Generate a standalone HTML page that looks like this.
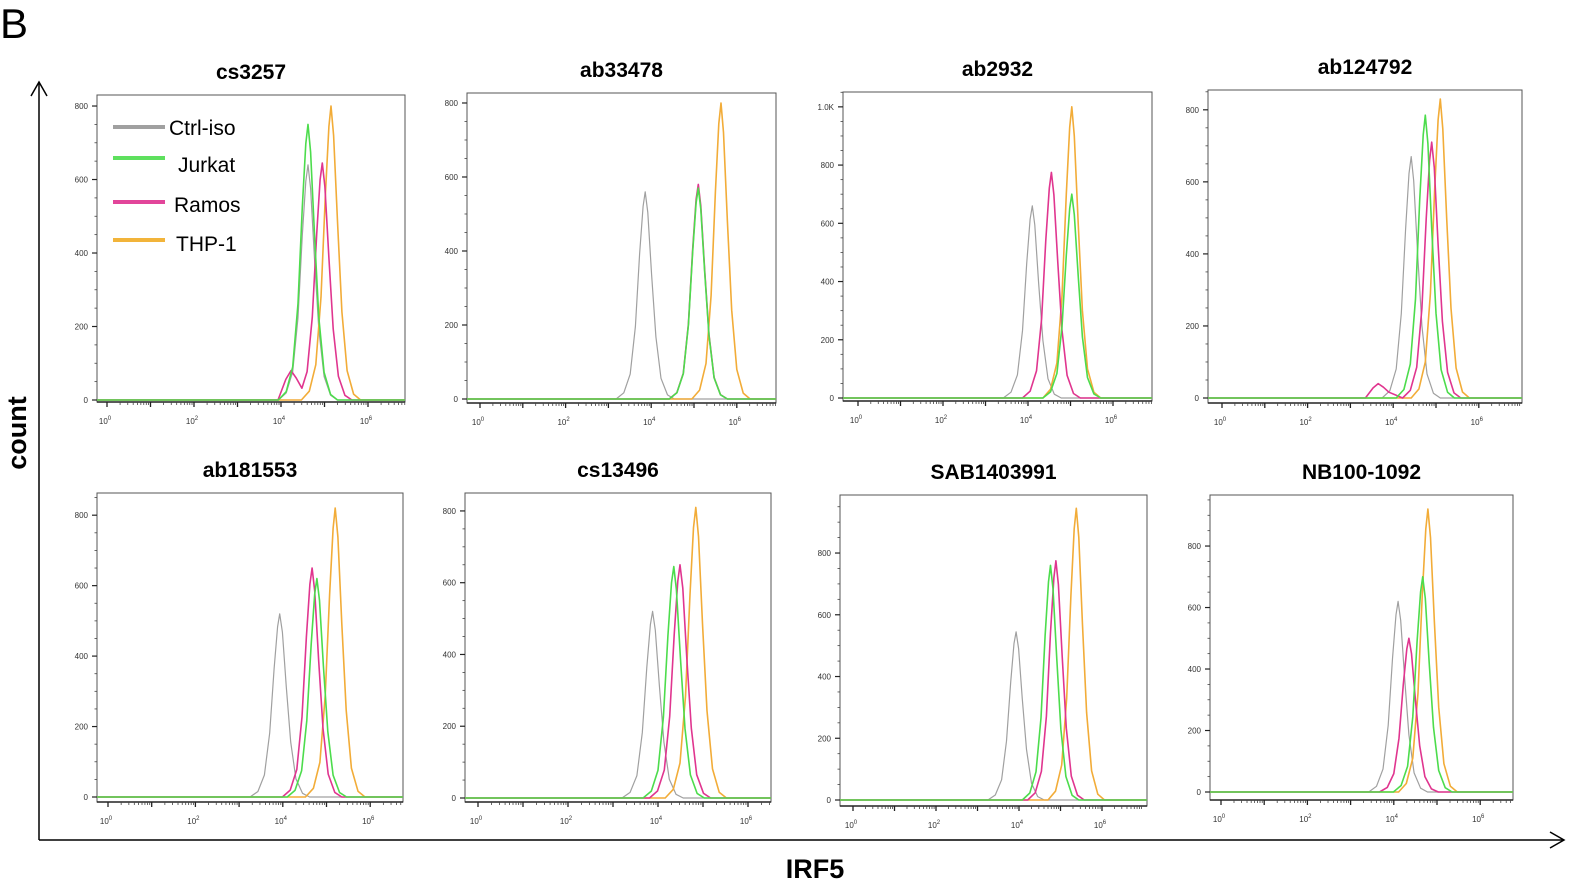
<!DOCTYPE html>
<html><head><meta charset="utf-8">
<style>
html,body{margin:0;padding:0;background:#fff;}
svg{display:block;font-family:"Liberation Sans",sans-serif;}
</style></head>
<body>
<svg id="fig" width="1569" height="882" viewBox="0 0 1569 882" xmlns="http://www.w3.org/2000/svg">
  <text x="0" y="38" font-size="42">B</text>
  <line x1="39" y1="840" x2="39" y2="82" stroke="#000" stroke-width="1.5"/>
  <polyline points="31,96 39,82 47,96" fill="none" stroke="#000" stroke-width="1.5"/>
  <line x1="39" y1="840" x2="1564" y2="840" stroke="#000" stroke-width="1.5"/>
  <polyline points="1550,832 1564,840 1550,848" fill="none" stroke="#000" stroke-width="1.5"/>
  <text x="0" y="0" transform="translate(26,433) rotate(-90)" text-anchor="middle" font-size="27" font-weight="bold">count</text>
  <text x="815" y="878" text-anchor="middle" font-size="27" font-weight="bold">IRF5</text>
  <g id="panels"></g>
  <g>
    <line x1="113" y1="127" x2="165" y2="127" stroke="#a0a0a0" stroke-width="4"/>
    <text x="169" y="135" font-size="21">Ctrl-iso</text>
    <line x1="113" y1="158" x2="165" y2="158" stroke="#5ee05e" stroke-width="4"/>
    <text x="178" y="172" font-size="21">Jurkat</text>
    <line x1="113" y1="202" x2="165" y2="202" stroke="#e2459a" stroke-width="4"/>
    <text x="174" y="212" font-size="21">Ramos</text>
    <line x1="113" y1="240" x2="165" y2="240" stroke="#f2b43a" stroke-width="4"/>
    <text x="176" y="251" font-size="21">THP-1</text>
  </g>
</svg>
<script>
// ---- data ----
const panelTitles = ["cs3257","ab33478","ab2932","ab124792","ab181553","cs13496","SAB1403991","NB100-1092"];
const seriesNames = ["ctrl-iso","jurkat","ramos","thp1"];
// peak position (log10 fluorescence) per panel, per series [ctrl, jurkat, ramos, thp1]
const peakLog = [
  [4.62,4.62,4.95,5.15],
  [3.86,5.1,5.1,5.63],
  [4.1,5.03,4.55,5.03],
  [4.42,4.75,4.9,5.1],
  [3.93,4.78,4.67,5.2],
  [3.88,4.35,4.49,4.84],
  [3.93,4.76,4.89,5.38],
  [4.1,4.67,4.35,4.79]
];
// peak height (count)
const peakCount = [
  [640,750,645,800],
  [560,570,580,800],
  [660,700,775,1000],
  [670,785,710,830],
  [520,620,650,820],
  [520,645,650,810],
  [545,760,775,945],
  [620,700,500,920]
];
// secondary Ramos debris peaks
const ramosBumpLog = [4.23,3.65];
const ramosBumpCount = [80,40];
const ramosBumpPanel = [0,3];
// normalized histogram profile (decade offsets vs relative height)
const profileOffset = [-0.68,-0.5,-0.35,-0.23,-0.13,-0.05,0,0.06,0.15,0.25,0.37,0.52,0.68];
const profileRel = [0,0.03,0.12,0.35,0.7,0.93,1,0.9,0.6,0.3,0.1,0.02,0];
const yTickValues = [0,200,400,600,800];
const yTickLabels = ["0","200","400","600","800"];
const xTickDecades = [0,2,4,6];

// ---- layout (not data) ----
const boxes = [
  {l:97,r:405,t:95,b:402,x0:107,dec:43.5,y0:400,yTop:830},
  {l:467,r:776,t:93,b:403,x0:480,dec:42.8,y0:399,yTop:827},
  {l:843,r:1152,t:92,b:401,x0:858,dec:42.5,y0:398,yTop:1051},
  {l:1208,r:1522,t:90,b:403,x0:1222,dec:42.8,y0:398,yTop:855},
  {l:97,r:403,t:493,b:802,x0:108,dec:43.7,y0:797,yTop:863},
  {l:465,r:771,t:493,b:802,x0:478,dec:45,y0:798,yTop:850},
  {l:840,r:1147,t:495,b:806,x0:853,dec:41.5,y0:800,yTop:988},
  {l:1210,r:1513,t:495,b:800,x0:1221,dec:43.2,y0:792,yTop:966}
];
const colors = ["#a0a0a0","#4cdc4c","#e0358f","#f2ac38"];
const NS = "http://www.w3.org/2000/svg";
const root = document.getElementById("panels");
function mk(tag, attrs, parent){const e=document.createElementNS(NS,tag);for(const k in attrs)e.setAttribute(k,attrs[k]);parent.appendChild(e);return e;}

boxes.forEach((B,pi)=>{
  const g = mk("g",{},root);
  
  
  const xs = lg => B.x0 + lg*B.dec;
  const ys = v => B.y0 - v*(B.y0-B.t)/B.yTop;
  const cx = (B.l+B.r)/2;
  const title = mk("text",{x:cx,y:B.t-16,"text-anchor":"middle","font-size":"21","font-weight":"bold"},g);
  title.textContent = panelTitles[pi];
  
  
  const frame = mk("rect",{x:B.l,y:B.t,width:B.r-B.l,height:B.b-B.t,fill:"none",stroke:"#555","stroke-width":"1"},g);
  
  
  const yticks = pi===2 ? [0,200,400,600,800,1000] : yTickValues;
  const ylabels = pi===2 ? ["0","200","400","600","800","1.0K"] : yTickLabels;
  yticks.forEach((v,i)=>{
    const y=ys(v);
    const t=mk("line",{x1:B.l-5,x2:B.l,y1:y,y2:y,stroke:"#222","stroke-width":"1.2"},g);
    
    
    const lb=mk("text",{x:B.l-9,y:y+3,"text-anchor":"end","font-size":"8",fill:"#333"},g);
    lb.textContent=ylabels[i];
    
    
    for(let m=1;m<4;m++){const ym=ys(v+m*50); if(ym>B.t){const mt=mk("line",{x1:B.l-2.5,x2:B.l,y1:ym,y2:ym,stroke:"#444","stroke-width":"0.8"},g);
      
      }}
  });
  const xa=mk("line",{x1:B.l,x2:B.r,y1:B.b,y2:B.b,stroke:"#222","stroke-width":"1.5"},g);
  
  
  for(let d=0; d<7; d++){
    const x=xs(d);
    if(x<=B.r){const t=mk("line",{x1:x,x2:x,y1:B.b,y2:B.b+5,stroke:"#222","stroke-width":"1.3"},g);
      
      }
    for(let m=2;m<10;m++){const xm=xs(d+Math.log10(m)); if(xm<B.r){const mt=mk("line",{x1:xm,x2:xm,y1:B.b,y2:B.b+3,stroke:"#444","stroke-width":"0.8"},g);
      
      }}
  }
  xTickDecades.forEach(d=>{
    const lb=mk("text",{x:xs(d)-2,y:B.b+22,"text-anchor":"middle","font-size":"8",fill:"#333"},g);
    lb.textContent="10";
    const sp=mk("tspan",{dy:"-4","font-size":"6"},lb); sp.textContent=String(d);
    
    
  });
  [0,3,2,1].forEach(si=>{
    const pk=peakLog[pi][si], h=peakCount[pi][si];
    let pts=[];
    const left=(B.l-B.x0)/B.dec, right=(B.r-B.x0)/B.dec;
    pts.push([left,0]);
    const bi = (si===2) ? ramosBumpPanel.indexOf(pi) : -1;
    let bumpEnd = -Infinity;
    if(bi>=0){
      const bl=ramosBumpLog[bi], bc=ramosBumpCount[bi];
      pts.push([bl-0.3,0],[bl-0.12,bc*0.7],[bl,bc],[bl+0.12,bc*0.75],[bl+0.25,bc*0.4]);
      bumpEnd = bl+0.25;
    }
    profileOffset.forEach((o,k)=>{const x=pk+o; if(x>bumpEnd) pts.push([x,h*profileRel[k]]);});
    pts.push([right,0]);
    pts.sort((a,b)=>a[0]-b[0]);
    const d=pts.map((p,i)=>(i?"L":"M")+xs(p[0]).toFixed(1)+","+ys(p[1]).toFixed(1)).join(" ");
    const path=mk("path",{d:d,fill:"none",stroke:colors[si],"stroke-width":si===0?"1.2":"1.6","stroke-linejoin":"round"},g);
    
    
  });
});
</script>
</body></html>
